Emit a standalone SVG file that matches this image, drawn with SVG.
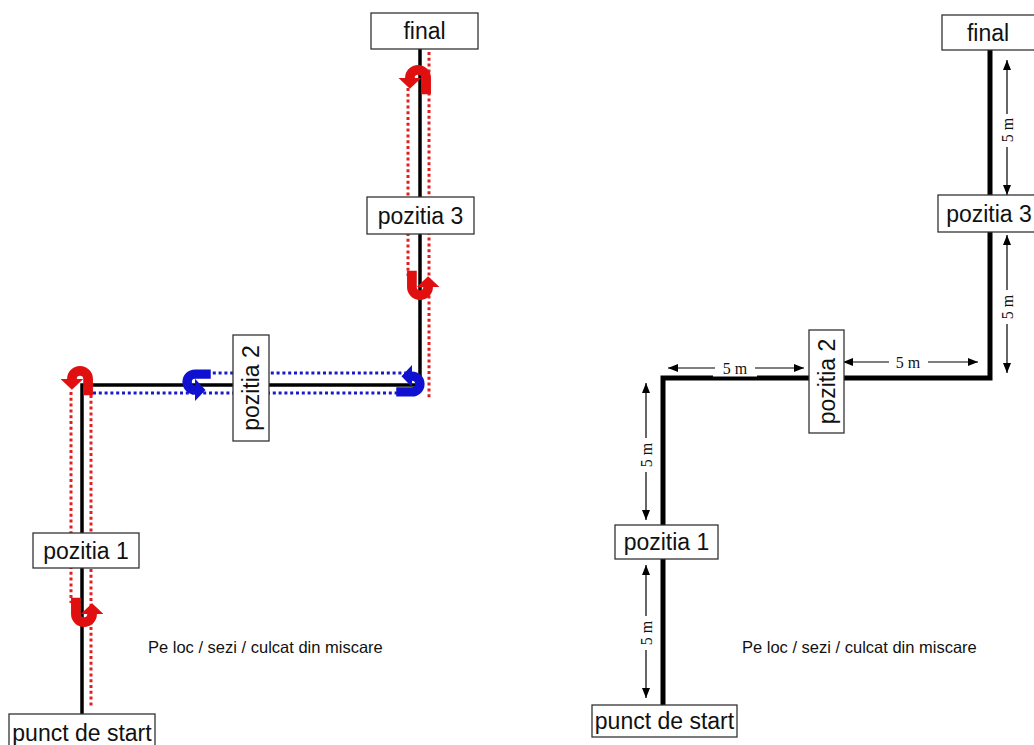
<svg xmlns="http://www.w3.org/2000/svg" xmlns:xlink="http://www.w3.org/1999/xlink" width="1034" height="745" viewBox="0 0 1034 745">
<style>
.box{fill:#fff;stroke:#333;stroke-width:1.3}
.lbl{font-family:"Liberation Sans",Arial,sans-serif;font-size:23px;fill:#111;text-anchor:middle}
.note{font-family:"Liberation Sans",Arial,sans-serif;font-size:16.5px;fill:#111}
.dim{font-family:"Liberation Serif","Times New Roman",serif;font-size:16px;fill:#111;text-anchor:middle}
.pathL{fill:none;stroke:#000;stroke-width:3.5}
.pathR{fill:none;stroke:#000;stroke-width:5}
.rd{fill:none;stroke:#e02020;stroke-width:3;stroke-dasharray:3 2.8}
.bd{fill:none;stroke:#1a1acc;stroke-width:3;stroke-dasharray:3 2.8}
.dl{fill:none;stroke:#000;stroke-width:1.2;marker-end:url(#ah)}
</style>
<defs>
<marker id="ah" viewBox="0 0 10 10" refX="10" refY="5" markerWidth="10" markerHeight="10" markerUnits="userSpaceOnUse" orient="auto">
<path d="M0 1 L10 5 L0 9 Z" fill="#000"/>
</marker>
<path id="ut" d="M 3 15 L 12 15 L 12 0 A 12 12 0 0 0 -12 0 L -18 0 L -7.5 10 L 3 0 L -3 0 A 3 3 0 0 1 3 0 Z"/>
</defs>
<rect width="1034" height="745" fill="#fff"/>

<g id="connectors">
<path class="rd" d="M71 392 V603"/>
<path class="rd" d="M91 395 V708"/>
<path class="rd" d="M408 88 V276"/>
<path class="rd" d="M429 52 V400"/>
<path class="bd" d="M207 373 H407"/>
<path class="bd" d="M93 393 H404"/>
<path class="pathL" d="M82 717 V385 H420 V49"/>
<use xlink:href="#ut" href="#ut" fill="#e01010" transform="translate(418 78) scale(1.08)"/>
<use xlink:href="#ut" href="#ut" fill="#e01010" transform="translate(80 379) scale(1.08)"/>
<use xlink:href="#ut" href="#ut" fill="#e01010" transform="translate(420 287) rotate(180) scale(1.08)"/>
<use xlink:href="#ut" href="#ut" fill="#e01010" transform="translate(84 614) rotate(180) scale(1.08)"/>
<use xlink:href="#ut" href="#ut" fill="#1010d0" transform="translate(412 384) rotate(90) scale(1.05)"/>
<use xlink:href="#ut" href="#ut" fill="#1010d0" transform="translate(195 382) rotate(-90) scale(1.05)"/>

<path class="pathR" d="M663 705 V378 H990 V50"/>
<rect x="713" y="358" width="44" height="18.5" fill="#fff"/>
<path class="dl" d="M1007 114 V60"/><path class="dl" d="M1007 147 V195"/>
<text class="dim" transform="translate(1012.5 130) rotate(-90)">5 m</text>
<path class="dl" d="M1007 290 V235"/><path class="dl" d="M1007 324 V373"/>
<text class="dim" transform="translate(1012.5 307) rotate(-90)">5 m</text>
<path class="dl" d="M889 362 H843"/><path class="dl" d="M928 362 H978"/>
<text class="dim" x="908" y="367.5">5 m</text>
<path class="dl" d="M715 368 H668"/><path class="dl" d="M755 368 H804"/>
<text class="dim" x="735" y="373.5">5 m</text>
<path class="dl" d="M646 438 V383"/><path class="dl" d="M646 472 V520"/>
<text class="dim" transform="translate(651.5 455) rotate(-90)">5 m</text>
<path class="dl" d="M646 616 V565"/><path class="dl" d="M646 650 V698"/>
<text class="dim" transform="translate(651.5 633) rotate(-90)">5 m</text>
</g>

<g id="L-final"><rect class="box" x="371" y="13" width="107" height="36"/><text class="lbl" x="424.5" y="39">final</text></g>
<g id="L-poz3"><rect class="box" x="367" y="197" width="107" height="37"/><text class="lbl" x="420.5" y="223.5">pozitia 3</text></g>
<g id="L-poz2"><rect class="box" x="233" y="335" width="36" height="106"/><text class="lbl" transform="translate(259 388) rotate(-90)">pozitia 2</text></g>
<g id="L-poz1"><rect class="box" x="33" y="533" width="106" height="35"/><text class="lbl" x="86" y="558.5">pozitia 1</text></g>
<g id="L-start"><rect class="box" x="9" y="714" width="146" height="40"/><text class="lbl" x="82" y="741">punct de start</text></g>
<g id="L-note"><text class="note" x="148" y="653">Pe loc / sezi / culcat din miscare</text></g>

<g id="R-final"><rect class="box" x="942" y="15" width="100" height="35"/><text class="lbl" x="988" y="40.5">final</text></g>
<g id="R-poz3"><rect class="box" x="938" y="195" width="104" height="37"/><text class="lbl" x="989" y="221.5">pozitia 3</text></g>
<g id="R-poz2"><rect class="box" x="809" y="330" width="35" height="103"/><text class="lbl" transform="translate(834.5 381.5) rotate(-90)">pozitia 2</text></g>
<g id="R-poz1"><rect class="box" x="615" y="525" width="103" height="34"/><text class="lbl" x="666.5" y="550">pozitia 1</text></g>
<g id="R-start"><rect class="box" x="592" y="705" width="145" height="32"/><text class="lbl" x="664.5" y="729">punct de start</text></g>
<g id="R-note"><text class="note" x="742" y="653">Pe loc / sezi / culcat din miscare</text></g>
</svg>
